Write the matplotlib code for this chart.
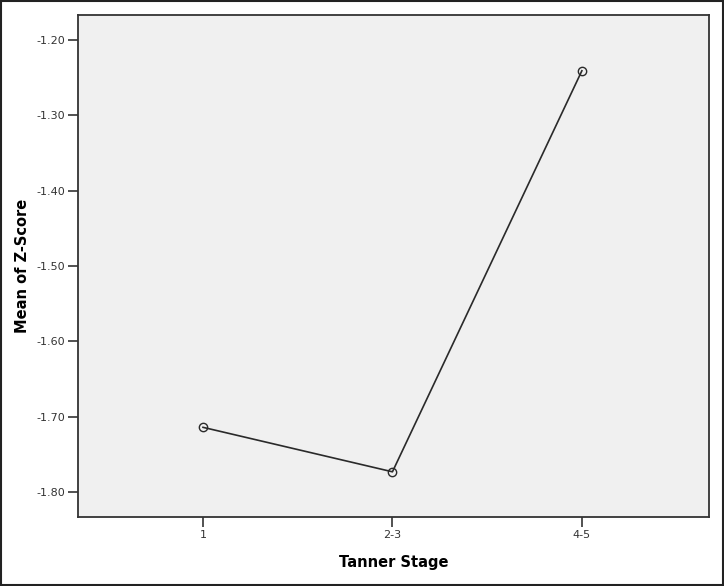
import matplotlib.pyplot as plt
from matplotlib.patches import Rectangle

# data
stages = ["1", "2-3", "4-5"]
mean_z = [-1.714, -1.773, -1.241]
y_ticks = [-1.20, -1.30, -1.40, -1.50, -1.60, -1.70, -1.80]

fig = plt.figure(figsize=(7.24, 5.86), dpi=100)
ax = fig.add_axes([0.1077, 0.1177, 0.8713, 0.8567])
ax.set_facecolor("#f0f0f0")

x = list(range(len(stages)))
ax.plot(x, mean_z, color="#2a2a2a", lw=1.2, marker="o", markersize=6,
        markerfacecolor="none", markeredgecolor="#2a2a2a", markeredgewidth=1.0)

ax.set_xlim(-0.66, 2.67)
ax.set_ylim(-1.833, -1.167)
ax.set_xticks(x)
ax.set_xticklabels(stages)
ax.set_yticks(y_ticks)
ax.set_yticklabels([f"{v:.2f}" for v in y_ticks])

for side in ["top", "right", "left", "bottom"]:
    ax.spines[side].set_color("#333333")
    ax.spines[side].set_linewidth(1.3)
ax.tick_params(axis="both", direction="out", length=7, width=1.2,
               color="#333333", labelsize=8, labelcolor="#333333", pad=2)

ax.set_xlabel("Tanner Stage", fontsize=10.5, fontweight="bold", labelpad=11)
ax.set_ylabel("Mean of Z-Score", fontsize=10.5, fontweight="bold", labelpad=5)

# outer frame around the whole picture
fig.patches.append(Rectangle((0.001, 0.001), 0.998, 0.998, transform=fig.transFigure,
                             fill=False, edgecolor="#222222", lw=1.5))

fig.savefig("out.png", dpi=100)
